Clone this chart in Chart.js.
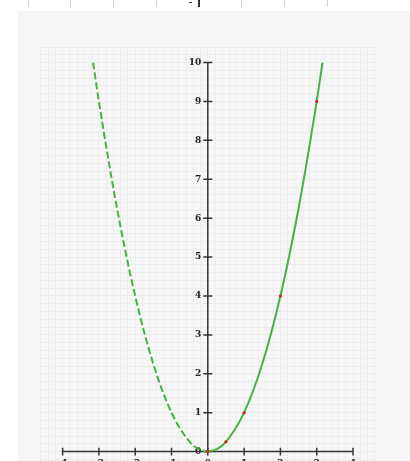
<!DOCTYPE html>
<html>
<head>
<meta charset="utf-8">
<script src="https://cdn.jsdelivr.net/npm/chart.js@4/dist/chart.umd.min.js"></script>
<style>
body{margin:0;width:410px;height:461px;overflow:hidden;background:#fff;position:relative}
.vl{position:absolute;top:0;width:1px;height:7px;background:#cfcfcf}
#panel{position:absolute;left:18px;top:11px;width:392px;height:494px;background:#f6f6f6}
</style>
</head>
<body>
<div class="vl" style="left:28px"></div>
<div class="vl" style="left:70px"></div>
<div class="vl" style="left:113px"></div>
<div class="vl" style="left:156px"></div>
<div class="vl" style="left:198px;background:#333;width:1.5px"></div>
<div class="vl" style="left:189px;top:2px;width:3px;height:1px;background:#444"></div>
<div class="vl" style="left:241px"></div>
<div class="vl" style="left:284px"></div>
<div class="vl" style="left:327px"></div>
<div id="panel"><canvas id="myChart" width="392" height="494"></canvas></div>
<script>
// axis ticks
const xTicks = [-4, -3, -2, -1, 0, 1, 2, 3, 4];
const yTicks = [0, 1, 2, 3, 4, 5, 6, 7, 8, 9, 10];

// dashed left branch, solid right branch
const leftX = [-3.16, -3, -2.5, -2, -1.5, -1, -0.5, -0.25, 0];
const leftY = [10, 9, 6.25, 4, 2.25, 1, 0.25, 0.0625, 0];
const rightX = [0, 0.25, 0.5, 1, 1.5, 2, 2.5, 3, 3.16];
const rightY = [0, 0.0625, 0.25, 1, 2.25, 4, 6.25, 9, 10];

// red marked points
const dotX = [0, 0.5, 1, 2, 3];
const dotY = [0, 0.25, 1, 4, 9];

const xMin = -4.65, xMax = 4.65;
const yMin = -1, yMax = 10.4;
const gridStep = 0.2;

function pts(xs, ys){
  return xs.map((x, i) => ({x: x, y: ys[i]}));
}

function gridTicks(min, max){
  let out = [];
  let k = Math.ceil(min / gridStep - 1e-9);
  while (k * gridStep <= max + 1e-9){
    out.push({value: k * gridStep});
    k++;
  }
  return out;
}

const lblFont = {family: 'DejaVu Serif', size: 9, weight: 'bold'};
const axisCol = '#333';
const green = '#44b244';

function draw_chart(){
  new Chart("myChart", {
    type: "scatter",
    data: {
      datasets: [{
        data: pts(dotX, dotY),
        pointRadius: 1.6,
        pointBackgroundColor: '#d81e1e',
        pointBorderWidth: 0,
        showLine: false,
        order: 0
      }, {
        data: pts(rightX, rightY),
        showLine: true,
        borderColor: green,
        borderWidth: 2,
        pointRadius: 0,
        cubicInterpolationMode: 'monotone',
        order: 1
      }, {
        data: pts(leftX, leftY),
        showLine: true,
        borderColor: green,
        borderWidth: 2,
        borderDash: [7, 3],
        pointRadius: 0,
        cubicInterpolationMode: 'monotone',
        order: 1
      }, {
        // x axis line
        data: [{x: xTicks[0], y: 0}, {x: xTicks[xTicks.length - 1], y: 0}],
        showLine: true,
        borderColor: axisCol,
        borderWidth: 1.5,
        pointRadius: 0,
        order: 2
      }, {
        // y axis line
        data: [{x: 0, y: yTicks[0]}, {x: 0, y: yTicks[yTicks.length - 1]}],
        showLine: true,
        borderColor: axisCol,
        borderWidth: 1.5,
        pointRadius: 0,
        order: 2
      }, {
        data: xTicks.map(v => ({x: v, y: 0})),
        showLine: false,
        pointStyle: 'line',
        rotation: 90,
        pointRadius: 3.8,
        borderColor: axisCol,
        pointBorderColor: axisCol,
        pointBorderWidth: 1.5,
        order: 2
      }, {
        data: yTicks.map(v => ({x: 0, y: v})),
        showLine: false,
        pointStyle: 'line',
        pointRadius: 4.5,
        borderColor: axisCol,
        pointBorderColor: axisCol,
        pointBorderWidth: 1.5,
        order: 2
      }].map(d => Object.assign({xAxisID: 'x', yAxisID: 'y'}, d))
    },
    options: {
      responsive: false,
      animation: false,
      layout: {padding: {left: 21, right: 33.4, top: 36, bottom: 14.5}},
      plugins: {legend: {display: false}, tooltip: {enabled: false}},
      scales: {
        x: {
          type: 'linear', min: xMin, max: xMax,
          ticks: {display: false},
          border: {display: false},
          grid: {color: '#ececec', drawTicks: false},
          afterBuildTicks: s => { s.ticks = gridTicks(xMin, xMax); }
        },
        y: {
          type: 'linear', min: yMin, max: yMax,
          ticks: {display: false},
          border: {display: false},
          grid: {color: '#ececec', drawTicks: false},
          afterBuildTicks: s => { s.ticks = gridTicks(yMin, yMax); }
        },
        xl: {
          type: 'linear', axis: 'x', position: {y: 0}, min: xMin, max: xMax,
          border: {display: false},
          grid: {display: false, drawTicks: false},
          ticks: {font: lblFont, color: '#222', padding: 7, maxRotation: 0},
          afterBuildTicks: s => { s.ticks = xTicks.map(v => ({value: v})); }
        },
        yl: {
          // labels sit just left of the y axis
          type: 'linear', axis: 'y', position: {x: -0.18}, min: yMin, max: yMax,
          border: {display: false},
          grid: {display: false, drawTicks: false},
          ticks: {font: lblFont, color: '#222', padding: 0},
          afterBuildTicks: s => { s.ticks = yTicks.map(v => ({value: v})); }
        }
      }
    }
  });
}

draw_chart();
</script>
</body>
</html>
